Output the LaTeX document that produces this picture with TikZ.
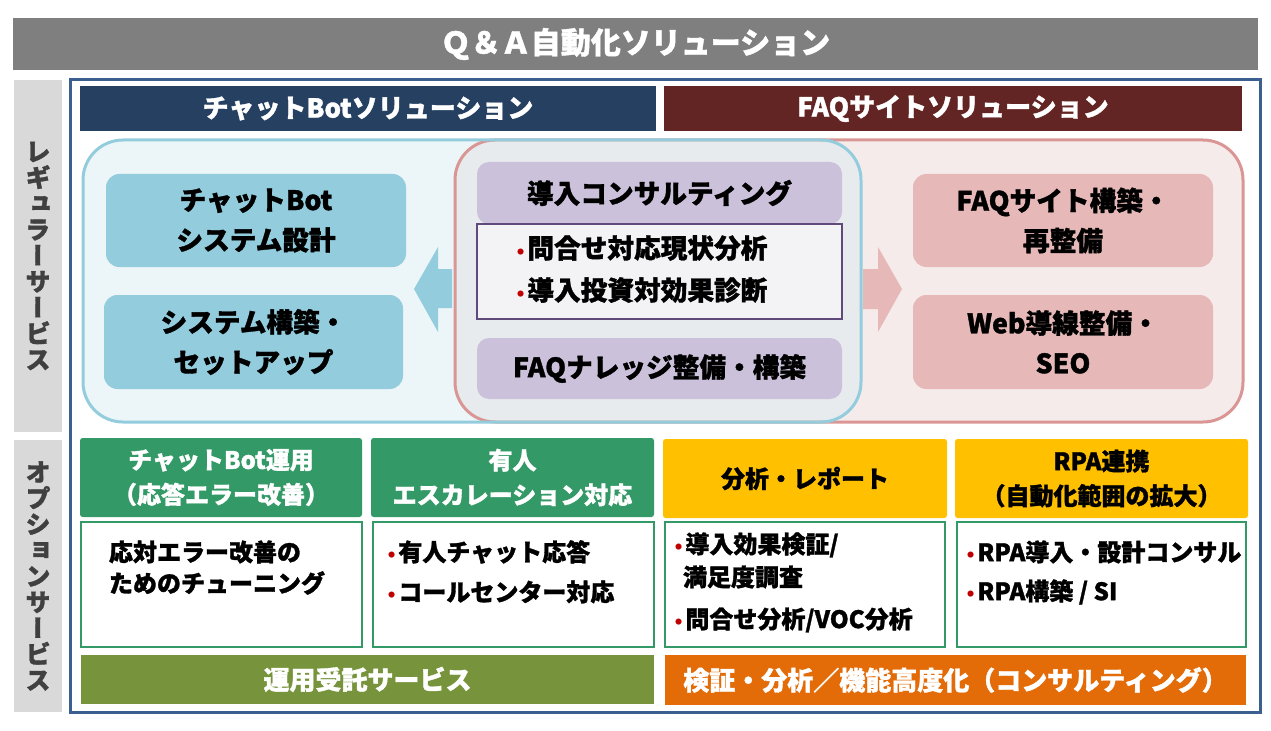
\documentclass[tikz,border=0pt]{standalone}
\usepackage{fontspec}
\setmainfont{Noto Sans CJK JP}[BoldFeatures={FakeBold=1.3}]
\newfontfamily\vjp{Noto Sans CJK JP}[RawFeature=+vert, BoldFeatures={FakeBold=1.3}]
\newfontfamily\dvfont{DejaVu Sans}
\definecolor{titlegray}{HTML}{7F7F7F}
\definecolor{sidegray}{HTML}{D9D9D9}
\definecolor{sidetext}{HTML}{404040}
\definecolor{frameblue}{HTML}{3B5F8F}
\definecolor{navy}{HTML}{254061}
\definecolor{darkred}{HTML}{632523}
\definecolor{regblue}{HTML}{ECF5F8}
\definecolor{regblueborder}{HTML}{93CDDD}
\definecolor{boxblue}{HTML}{93CDDD}
\definecolor{regpink}{HTML}{F6EBEB}
\definecolor{regpinkborder}{HTML}{D99694}
\definecolor{boxpink}{HTML}{E6B9B8}
\definecolor{overlapgray}{HTML}{E7EBEE}
\definecolor{boxpurple}{HTML}{CCC1DA}
\definecolor{purpleborder}{HTML}{604A7B}
\definecolor{listfill}{HTML}{F3F3F6}
\definecolor{optgreen}{HTML}{339966}
\definecolor{optyellow}{HTML}{FFC000}
\definecolor{olive}{HTML}{77933C}
\definecolor{optorange}{HTML}{E36C09}
\definecolor{bred}{HTML}{C00000}
\newcommand\bul{{\dvfont\color{bred}\fontsize{13}{13}\selectfont •}}
\begin{document}
\begin{tikzpicture}[x=0.75pt,y=-0.75pt,
  every node/.style={inner sep=0pt, outer sep=0pt},
  area/.style n args={4}{at={({(#1+#3)/2},{(#2+#4)/2})},
     minimum width={(#3-#1)*0.75pt}, minimum height={(#4-#2)*0.75pt},
     align=center, rectangle},
  titlebar/.style={fill=titlegray, text=white, font=\bfseries\fontsize{22.5}{27}\selectfont},
  sidelabel/.style={fill=sidegray, text=sidetext, font=\vjp\bfseries\fontsize{19}{19.5}\selectfont},
  headbar/.style={text=white, font=\bfseries\fontsize{19.5}{24}\selectfont},
  bigbox/.style={rounded corners=10pt, font=\bfseries\fontsize{20}{30}\selectfont},
  purplebox/.style={fill=boxpurple, rounded corners=9pt, font=\bfseries\fontsize{20}{30}\selectfont},
  optheader/.style={rounded corners=2pt, font=\bfseries\fontsize{18}{26}\selectfont},
  listbox/.style={draw=optgreen, line width=0.8pt, fill=white},
  bottombar/.style={text=white, font=\bfseries\fontsize{19.5}{24}\selectfont},
  item/.style={anchor=west, font=\bfseries\fontsize{18}{22}\selectfont},
  bigitem/.style={anchor=west, font=\bfseries\fontsize{20}{24}\selectfont},
  region/.style={line width=2.25pt, rounded corners=30pt}
]
\useasboundingbox (0,0) rectangle (1271,731);

% title
\node[titlebar, area={13}{18}{1258}{70}] (title) {Ｑ＆Ａ自動化ソリューション};

% side labels
\node[sidelabel, area={14}{80}{62}{432}] (regular) {レ\\ギ\\ュ\\ラ\\ー\\サ\\ー\\ビ\\ス};
\node[sidelabel, area={14}{440}{62}{712}] (option) {オ\\プ\\シ\\ョ\\ン\\サ\\ー\\ビ\\ス};

% main frame
\node[draw=frameblue, line width=2.25pt, area={70}{80}{1260}{712}] (frame) {};

% headers
\node[headbar, fill=navy, area={80}{86}{656}{131}] (botsol) {チャットBotソリューション};
\node[headbar, fill=darkred, area={664}{86}{1242}{131}] (faqsol) {FAQサイトソリューション};

% regions
\fill[regpink, rounded corners=30pt] (455,140) rectangle (1243,422);
\fill[regblue, rounded corners=30pt] (83,140) rectangle (861,422);
\begin{scope}
  \clip[rounded corners=30pt] (83,140) rectangle (861,422);
  \fill[overlapgray, rounded corners=30pt] (455,140) rectangle (1243,422);
\end{scope}
\node[region, draw=regpinkborder, area={455}{140}{1243}{422}] (faqregion) {};
\node[region, draw=regblueborder, area={83}{140}{861}{422}] (botregion) {};

% left boxes
\node[bigbox, fill=boxblue, area={106}{174}{406}{267}] (design) {チャットBot\\システム設計};
\node[bigbox, fill=boxblue, area={104}{295}{403}{389}] (setup) {システム構築・\\セットアップ};

% middle
\node[purplebox, area={477}{162}{842}{224}] (consult) {導入コンサルティング};
\node[draw=purpleborder, line width=0.8pt, fill=listfill, area={477}{224}{842}{319}] (conslist) {};
\node[bigitem] (c1) at (515,248) {\bul\hspace{1pt}問合せ対応現状分析};
\node[bigitem] (c2) at (515,290) {\bul\hspace{1pt}導入投資対効果診断};
\node[purplebox, area={477}{338}{842}{399}] (knowledge) {FAQナレッジ整備・構築};

% block arrows
\fill[boxblue] (452,269) -- (438,269) -- (438,247) -- (414,289) -- (438,332) -- (438,308) -- (452,308) -- cycle;
\fill[boxpink] (863,269) -- (878,269) -- (878,247) -- (902,289) -- (878,332) -- (878,309) -- (863,309) -- cycle;

% right boxes
\node[bigbox, fill=boxpink, area={913}{174}{1213}{267}] (faqbuild) {FAQサイト構築・\\再整備};
\node[bigbox, fill=boxpink, area={913}{295}{1213}{389}] (web) {Web導線整備・\\SEO};

% option headers
\node[optheader, fill=optgreen, text=white, area={80}{438}{362}{517}] (opbot) {チャットBot運用\\（応答エラー改善）};
\node[optheader, fill=optgreen, text=white, area={371}{438}{654}{517}] (opman) {有人\\エスカレーション対応};
\node[optheader, fill=optyellow, text=black, area={663}{439}{947}{518}] (opana) {分析・レポート};
\node[optheader, fill=optyellow, text=black, area={955}{439}{1248}{518}] (oprpa) {RPA連携\\（自動化範囲の拡大）};

% list boxes
\node[listbox, area={81}{522}{362}{647}] (l1) {};
\node[listbox, area={373}{522}{654}{647}] (l2) {};
\node[listbox, area={665}{522}{945}{647}] (l3) {};
\node[listbox, area={957}{522}{1246}{647}] (l4) {};

\node[item] (l1a) at (109,552) {応対エラー改善の};
\node[item] (l1b) at (109,583) {ためのチューニング};

\node[item] (l2a) at (386,552) {\bul\hspace{1pt}有人チャット応答};
\node[item] (l2b) at (386,592) {\bul\hspace{1pt}コールセンター対応};

\node[item] (l3a) at (673,545) {\bul\hspace{1pt}導入効果検証/};
\node[item] (l3b) at (683,577) {満足度調査};
\node[item] (l3c) at (673,620) {\bul\hspace{1pt}問合せ分析/VOC分析};

\node[item] (l4a) at (965,552) {\bul\hspace{1pt}RPA導入・設計コンサル};
\node[item] (l4b) at (965,592) {\bul\hspace{1pt}RPA構築 / SI};

% bottom bars
\node[bottombar, fill=olive, area={81}{655}{654}{704}] (opsvc) {運用受託サービス};
\node[bottombar, fill=optorange, area={665}{655}{1246}{705}] (consvc) {検証・分析／機能高度化（コンサルティング）};
\end{tikzpicture}
\end{document}
